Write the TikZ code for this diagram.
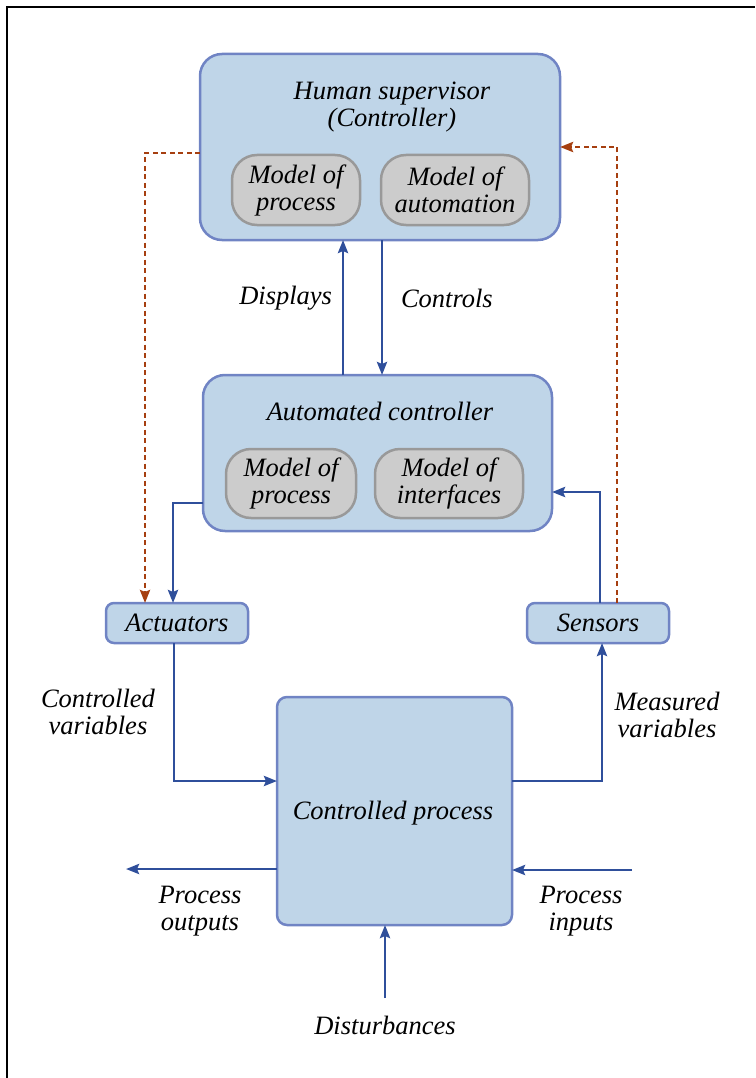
\documentclass[tikz,border=0pt]{standalone}
\usepackage{fontspec}
\setmainfont{Liberation Serif}
\usetikzlibrary{arrows.meta,calc}
\definecolor{boxfill}{HTML}{BFD5E8}
\definecolor{boxline}{HTML}{7084C4}
\definecolor{modfill}{HTML}{CCCCCC}
\definecolor{modline}{HTML}{999999}
\definecolor{flow}{HTML}{2F4F9B}
\definecolor{fb}{HTML}{A63F10}

\begin{document}
\begin{tikzpicture}[x=1pt,y=-1pt,
  every node/.style={font=\fontsize{26.5}{27}\selectfont\itshape, align=center, inner sep=0pt, outer sep=0pt},
  panel/.style={draw=boxline, fill=boxfill, line width=2.5pt, rounded corners=22pt},
  model/.style={draw=modline, fill=modfill, line width=2.5pt, rounded corners=25pt},
  unit/.style={draw=boxline, fill=boxfill, line width=2.5pt, rounded corners=8pt},
  flowline/.style={draw=flow, line width=2.8pt, -{Stealth[length=13pt,width=10pt,inset=2pt]}},
  fbline/.style={draw=fb, line width=2.8pt, dash pattern=on 5pt off 3.5pt, -{Stealth[length=13pt,width=10pt,inset=2pt]}}
]
\useasboundingbox (0,0) rectangle (755,1078);
% outer frame
\draw[line width=2.2pt] (7,1078) -- (7,7) -- (755,7);

% supervisor
\node[panel, minimum width=360pt, minimum height=186pt] (sup) at (380,147) {};
\node (supT) at (392,107) {Human supervisor\\(Controller)};
\node[model, minimum width=128pt, minimum height=70pt] (supP) at (296,190) {Model of\\process};
\node[model, minimum width=148pt, minimum height=70pt] (supM) at (455,190) {Model of\\automation};

% automation
\node[panel, minimum width=349pt, minimum height=156pt] (auto) at (377.5,453) {};
\node (autoT) at (380,411) {Automated controller};
\node[model, minimum width=130pt, minimum height=69pt] (autoP) at (291,483.5) {Model of\\process};
\node[model, minimum width=148pt, minimum height=69pt] (autoI) at (449,483.5) {Model of\\interfaces};

% field devices and plant
\node[unit, minimum width=142pt, minimum height=40pt] (act) at (177,623) {Actuators};
\node[unit, minimum width=142pt, minimum height=40pt] (sen) at (598,623) {Sensors};
\node[unit, rounded corners=10pt, minimum width=235pt, minimum height=228pt] (proc) at (394.5,811) {};
\node (procT) at (393,813) {Controlled process};

% helper coordinates
\coordinate (dispX) at (343,0);
\coordinate (ctrlX) at (382,0);
\coordinate (aoutY) at (0,503);
\coordinate (actX) at (173,0);
\coordinate (senX) at (600,0);
\coordinate (sinY) at (0,492);
\coordinate (cvX) at (174,0);
\coordinate (cvY) at (0,781);
\coordinate (mvX) at (602,0);
\coordinate (outY) at (0,869);
\coordinate (outEnd) at (126,869);
\coordinate (inStart) at (632,870);
\coordinate (distStart) at (385,998);
\coordinate (fbLY) at (0,153);
\coordinate (fbLX) at (145,0);
\coordinate (fbRX) at (617,0);
\coordinate (fbRY) at (0,147);

% control loop
\draw[flowline] (auto.north -| dispX) -- (sup.south -| dispX);
\draw[flowline] (sup.south -| ctrlX) -- (auto.north -| ctrlX);
\draw[flowline] (auto.west |- aoutY) -| (act.north -| actX);
\draw[flowline] (sen.north -| senX) |- (auto.east |- sinY);
\draw[flowline] (act.south -| cvX) |- (proc.west |- cvY);
\draw[flowline] (proc.east |- cvY) -| (sen.south -| mvX);
\draw[flowline] (proc.west |- outY) -- (outEnd);
\draw[flowline] (inStart) -- (proc.east |- inStart);
\draw[flowline] (distStart) -- (proc.south -| distStart);

% direct supervisory paths
\draw[fbline] (sup.west |- fbLY) -| (act.north -| fbLX);
\draw[fbline] (sen.north -| fbRX) |- (sup.east |- fbRY);

% labels
\node[anchor=east] (disp) at (332,298) {Displays};
\node[anchor=west] (ctrl) at (401,298) {Controls};
\node (cv) at (98,712) {Controlled\\variables};
\node (mv) at (667,715) {Measured\\variables};
\node (po) at (200,911) {Process\\outputs};
\node (pi) at (581,911) {Process\\inputs};
\node (dist) at (385,1025) {Disturbances};
\end{tikzpicture}
\end{document}
